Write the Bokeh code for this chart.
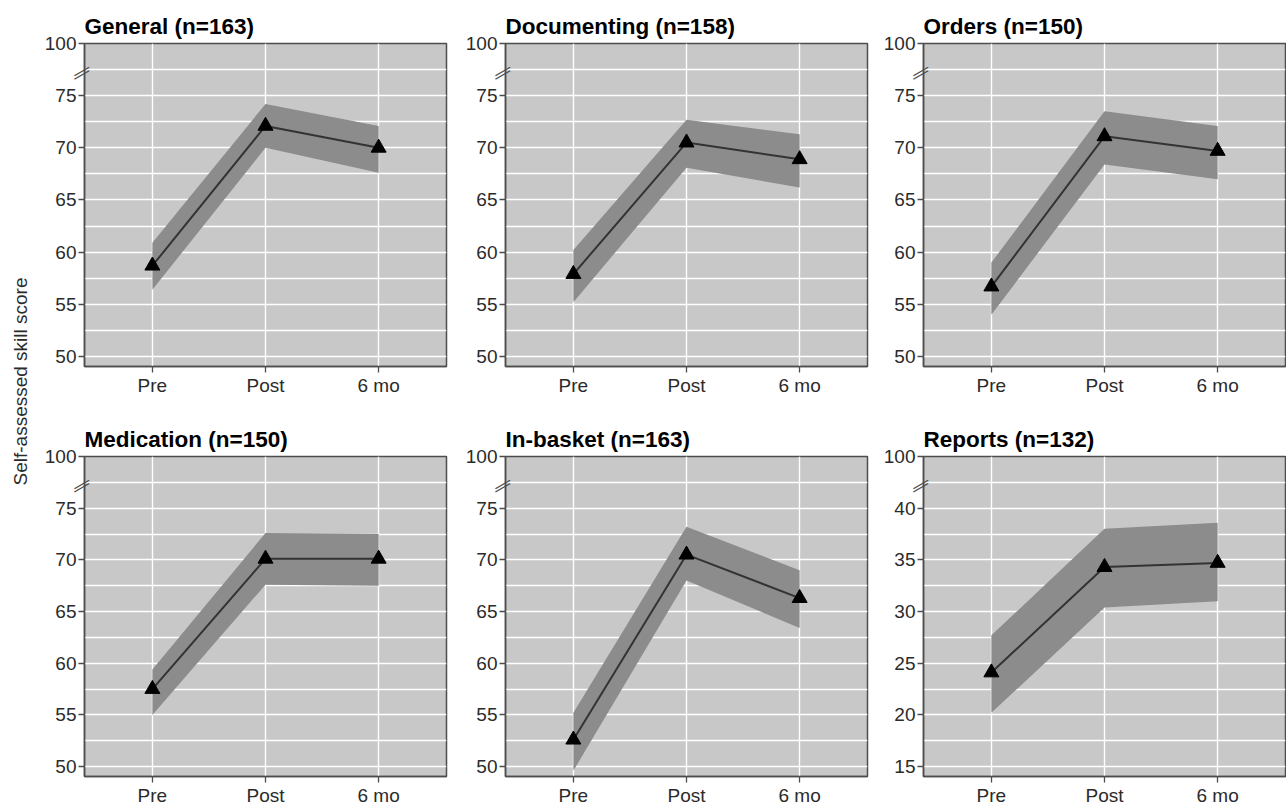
from bokeh.plotting import figure
from bokeh.models import FixedTicker, Range1d, LinearAxis
from bokeh.layouts import row, column
from bokeh.embed import file_html
from bokeh.resources import INLINE
from bokeh.core.properties import value

# ---------------- data ----------------
x_labels = ["Pre", "Post", "6 mo"]
x_pos = [1, 2, 3]

titles = ["General (n=163)", "Documenting (n=158)", "Orders (n=150)",
          "Medication (n=150)", "In-basket (n=163)", "Reports (n=132)"]

general_mean = [58.7, 72.1, 70.0]
general_lo = [56.4, 70.0, 67.6]
general_hi = [60.9, 74.2, 72.1]

documenting_mean = [57.9, 70.5, 68.9]
documenting_lo = [55.2, 68.1, 66.2]
documenting_hi = [60.2, 72.7, 71.3]

orders_mean = [56.7, 71.1, 69.7]
orders_lo = [54.0, 68.4, 67.0]
orders_hi = [59.0, 73.5, 72.1]

medication_mean = [57.5, 70.1, 70.1]
medication_lo = [55.0, 67.6, 67.5]
medication_hi = [59.4, 72.6, 72.5]

inbasket_mean = [52.6, 70.5, 66.3]
inbasket_lo = [49.6, 68.0, 63.4]
inbasket_hi = [55.2, 73.2, 69.0]

reports_mean = [24.1, 34.3, 34.7]
reports_lo = [20.2, 30.4, 31.0]
reports_hi = [27.7, 38.0, 38.6]

y_ticks_main = [50, 55, 60, 65, 70, 75]
y_ticks_reports = [15, 20, 25, 30, 35, 40]
y_break_label = "100"

y_axis_title = "Self-assessed skill score"

# ---------------- style ----------------
FONT = "Liberation Sans"
PANEL_BG = "#c8c8c8"
RIBBON = "#8c8c8c"
LINE = "#333333"
FRAME = "#4d4d4d"
TICK_TXT = "#2b2b2b"

series = [
    (general_mean, general_lo, general_hi, y_ticks_main),
    (documenting_mean, documenting_lo, documenting_hi, y_ticks_main),
    (orders_mean, orders_lo, orders_hi, y_ticks_main),
    (medication_mean, medication_lo, medication_hi, y_ticks_main),
    (inbasket_mean, inbasket_lo, inbasket_hi, y_ticks_main),
    (reports_mean, reports_lo, reports_hi, y_ticks_reports),
]

label_w = 38
frame_w = [362, 362, 362]
border_right = [13, 10, 1]
border_left = 46
row_top = [43, 35]
row_frame_h = [323, 321]
row_bottom = [54, 34]


def make_panel(i):
    r, c = divmod(i, 3)
    mean, lo, hi, ticks = series[i]
    step = ticks[1] - ticks[0]
    y_top = ticks[-1] + step          # position used for the "100" label
    y_bottom = ticks[0] - 0.96
    w = border_left + frame_w[c] + border_right[c]
    h = row_top[r] + row_frame_h[r] + row_bottom[r]
    p = figure(width=w, height=h,
               x_range=Range1d(0.4, 3.6), y_range=Range1d(y_bottom, y_top),
               min_border_left=border_left, min_border_right=border_right[c],
               min_border_top=row_top[r], min_border_bottom=row_bottom[r],
               output_backend="svg", toolbar_location=None, title=titles[i])
    p.background_fill_color = PANEL_BG
    p.border_fill_color = "white"
    p.outline_line_color = FRAME
    p.outline_line_width = 1.5

    p.title.text_font = FONT
    p.title.text_font_size = "22.5px"
    p.title.text_font_style = "bold"
    p.title.text_color = "black"
    p.title.align = "left"
    p.title.offset = 0
    p.title.standoff = 9

    # axes
    yt = ticks + [y_top]
    minor = [t + step / 2 for t in ticks]
    p.yaxis.ticker = FixedTicker(ticks=yt, minor_ticks=minor)
    p.yaxis.major_label_overrides = {y_top: y_break_label}
    p.xaxis.ticker = FixedTicker(ticks=x_pos, minor_ticks=[])
    p.xaxis.major_label_overrides = {k: v for k, v in zip(x_pos, x_labels)}
    for ax in (p.xaxis, p.yaxis):
        ax.axis_line_color = FRAME
        ax.axis_line_width = 1.5
        ax.major_tick_line_color = FRAME
        ax.major_tick_line_width = 1.3
        ax.major_tick_out = 6
        ax.major_tick_in = 0
        ax.minor_tick_line_color = None
        ax.major_label_text_font = FONT
        ax.major_label_text_font_size = "19px"
        ax.major_label_text_color = TICK_TXT
        ax.major_label_standoff = 2

    # grid
    p.xgrid.grid_line_color = "white"
    p.xgrid.grid_line_width = 1.4
    p.ygrid.grid_line_color = "white"
    p.ygrid.grid_line_width = 1.4
    p.ygrid.minor_grid_line_color = "white"
    p.ygrid.minor_grid_line_width = 1.4

    # data
    p.varea(x=x_pos, y1=lo, y2=hi, fill_color=RIBBON, fill_alpha=1.0)
    p.line(x=x_pos, y=mean, line_color=LINE, line_width=2)
    p.scatter(x=x_pos, y=mean, marker="triangle", size=15,
              fill_color="black", line_color="black")

    # axis break marks: an extra tick-less axis whose two labels are slanted
    # dashes, pulled back over the main y axis line
    ppu = row_frame_h[r] / (y_top - y_bottom)
    yc = y_top - 24.5 / ppu
    d = 1.7 / ppu
    b1 = round(yc - d, 3)
    b2 = round(yc + d, 3)
    brk = LinearAxis(ticker=FixedTicker(ticks=[b1, b2], minor_ticks=[]),
                     major_label_overrides={b1: "\u2014", b2: "\u2014"},
                     axis_line_color=None, major_tick_line_color=None,
                     minor_tick_line_color=None, major_tick_out=0,
                     major_tick_in=0,
                     major_label_orientation=0.52,
                     major_label_standoff=-47,
                     major_label_text_font=FONT,
                     major_label_text_font_size="17px",
                     major_label_text_color=FRAME)
    p.add_layout(brk, "left")
    return p


panels = [make_panel(i) for i in range(6)]

total_h = sum(row_top) + sum(row_frame_h) + sum(row_bottom)
lab = figure(width=label_w, height=total_h, x_range=Range1d(0, label_w),
             y_range=Range1d(total_h, 0), output_backend="svg",
             toolbar_location=None, min_border=0)
lab.axis.visible = False
lab.grid.visible = False
lab.outline_line_color = None
lab.background_fill_color = "white"
lab.text(x=[20], y=[381], text=[y_axis_title], angle=1.5707963,
         text_align="center", text_baseline="middle",
         text_font=value(FONT), text_font_size="19px", text_color="#2b2b2b")

layout = row(lab, column(row(*panels[:3]), row(*panels[3:])))

with open("out.html", "w") as f:
    f.write(file_html(layout, INLINE))
